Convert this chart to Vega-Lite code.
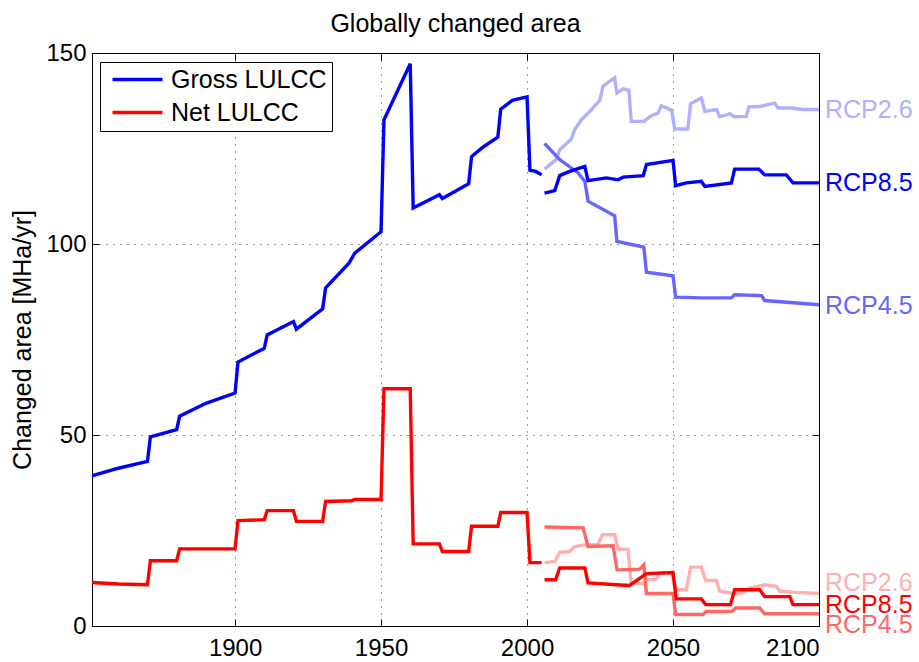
{
  "$schema": "https://vega.github.io/schema/vega-lite/v6.json",
  "width": 727,
  "height": 573,
  "autosize": {"type": "none"},
  "padding": {"left": 92, "top": 53, "right": 100, "bottom": 36},
  "background": "white",
  "title": {"text": "Globally changed area", "fontSize": 25, "fontWeight": "normal", "color": "black", "anchor": "middle", "offset": 4},
  "config": {
    "font": "Liberation Sans",
    "view": {"stroke": "black", "strokeWidth": 1},
    "axis": {"domain": false, "labelColor": "black", "titleColor": "black", "labelFontSize": 24, "titleFontSize": 25, "titleFontWeight": "normal", "tickColor": "black", "gridColor": "black", "gridOpacity": 0.75, "gridDash": [1, 6], "gridWidth": 1}
  },
  "datasets": {
    "lines": [
      {"s": "Gross LULCC", "year": 1851, "v": 39.3},
      {"s": "Gross LULCC", "year": 1860, "v": 41.3},
      {"s": "Gross LULCC", "year": 1870, "v": 43.1},
      {"s": "Gross LULCC", "year": 1871, "v": 49.5},
      {"s": "Gross LULCC", "year": 1880, "v": 51.4},
      {"s": "Gross LULCC", "year": 1881, "v": 54.9},
      {"s": "Gross LULCC", "year": 1890, "v": 58.3},
      {"s": "Gross LULCC", "year": 1900, "v": 61.0},
      {"s": "Gross LULCC", "year": 1901, "v": 69.1},
      {"s": "Gross LULCC", "year": 1910, "v": 72.7},
      {"s": "Gross LULCC", "year": 1911, "v": 76.2},
      {"s": "Gross LULCC", "year": 1920, "v": 79.7},
      {"s": "Gross LULCC", "year": 1921, "v": 77.7},
      {"s": "Gross LULCC", "year": 1930, "v": 83.0},
      {"s": "Gross LULCC", "year": 1931, "v": 88.5},
      {"s": "Gross LULCC", "year": 1939, "v": 95.0},
      {"s": "Gross LULCC", "year": 1941, "v": 97.6},
      {"s": "Gross LULCC", "year": 1950, "v": 103.2},
      {"s": "Gross LULCC", "year": 1951, "v": 132.5},
      {"s": "Gross LULCC", "year": 1960, "v": 147.2},
      {"s": "Gross LULCC", "year": 1961, "v": 109.4},
      {"s": "Gross LULCC", "year": 1970, "v": 112.9},
      {"s": "Gross LULCC", "year": 1971, "v": 111.9},
      {"s": "Gross LULCC", "year": 1980, "v": 115.8},
      {"s": "Gross LULCC", "year": 1981, "v": 122.9},
      {"s": "Gross LULCC", "year": 1985, "v": 125.4},
      {"s": "Gross LULCC", "year": 1990, "v": 128.0},
      {"s": "Gross LULCC", "year": 1991, "v": 135.3},
      {"s": "Gross LULCC", "year": 1995, "v": 137.6},
      {"s": "Gross LULCC", "year": 2000, "v": 138.5},
      {"s": "Gross LULCC", "year": 2001, "v": 119.3},
      {"s": "Gross LULCC", "year": 2003, "v": 119.0},
      {"s": "Gross LULCC", "year": 2005, "v": 118.1},
      {"s": "Net LULCC", "year": 1851, "v": 11.4},
      {"s": "Net LULCC", "year": 1860, "v": 11.0},
      {"s": "Net LULCC", "year": 1870, "v": 10.8},
      {"s": "Net LULCC", "year": 1871, "v": 17.1},
      {"s": "Net LULCC", "year": 1880, "v": 17.1},
      {"s": "Net LULCC", "year": 1881, "v": 20.2},
      {"s": "Net LULCC", "year": 1900, "v": 20.2},
      {"s": "Net LULCC", "year": 1901, "v": 27.6},
      {"s": "Net LULCC", "year": 1910, "v": 27.8},
      {"s": "Net LULCC", "year": 1911, "v": 30.2},
      {"s": "Net LULCC", "year": 1920, "v": 30.2},
      {"s": "Net LULCC", "year": 1921, "v": 27.4},
      {"s": "Net LULCC", "year": 1930, "v": 27.4},
      {"s": "Net LULCC", "year": 1931, "v": 32.6},
      {"s": "Net LULCC", "year": 1940, "v": 32.8},
      {"s": "Net LULCC", "year": 1941, "v": 33.1},
      {"s": "Net LULCC", "year": 1950, "v": 33.1},
      {"s": "Net LULCC", "year": 1951, "v": 62.1},
      {"s": "Net LULCC", "year": 1960, "v": 62.1},
      {"s": "Net LULCC", "year": 1961, "v": 21.5},
      {"s": "Net LULCC", "year": 1970, "v": 21.5},
      {"s": "Net LULCC", "year": 1971, "v": 19.5},
      {"s": "Net LULCC", "year": 1980, "v": 19.5},
      {"s": "Net LULCC", "year": 1981, "v": 26.1},
      {"s": "Net LULCC", "year": 1990, "v": 26.1},
      {"s": "Net LULCC", "year": 1991, "v": 29.7},
      {"s": "Net LULCC", "year": 2000, "v": 29.7},
      {"s": "Net LULCC", "year": 2001, "v": 16.6},
      {"s": "Net LULCC", "year": 2005, "v": 16.6},
      {"s": "Gross RCP2.6", "year": 2006, "v": 119.6},
      {"s": "Gross RCP2.6", "year": 2010, "v": 122.1},
      {"s": "Gross RCP2.6", "year": 2011.2, "v": 124.7},
      {"s": "Gross RCP2.6", "year": 2015.2, "v": 127.5},
      {"s": "Gross RCP2.6", "year": 2016.3, "v": 129.9},
      {"s": "Gross RCP2.6", "year": 2018.6, "v": 132.5},
      {"s": "Gross RCP2.6", "year": 2021.5, "v": 134.7},
      {"s": "Gross RCP2.6", "year": 2024.9, "v": 137.6},
      {"s": "Gross RCP2.6", "year": 2026, "v": 141.3},
      {"s": "Gross RCP2.6", "year": 2030, "v": 143.5},
      {"s": "Gross RCP2.6", "year": 2030.8, "v": 139.5},
      {"s": "Gross RCP2.6", "year": 2032.9, "v": 140.6},
      {"s": "Gross RCP2.6", "year": 2034.9, "v": 140.2},
      {"s": "Gross RCP2.6", "year": 2035.7, "v": 132.1},
      {"s": "Gross RCP2.6", "year": 2040, "v": 132.1},
      {"s": "Gross RCP2.6", "year": 2042.6, "v": 133.6},
      {"s": "Gross RCP2.6", "year": 2044.9, "v": 134.3},
      {"s": "Gross RCP2.6", "year": 2046, "v": 136.2},
      {"s": "Gross RCP2.6", "year": 2049.5, "v": 135.0},
      {"s": "Gross RCP2.6", "year": 2050.6, "v": 130.1},
      {"s": "Gross RCP2.6", "year": 2055.1, "v": 130.1},
      {"s": "Gross RCP2.6", "year": 2056, "v": 136.7},
      {"s": "Gross RCP2.6", "year": 2059.7, "v": 138.2},
      {"s": "Gross RCP2.6", "year": 2060.9, "v": 134.7},
      {"s": "Gross RCP2.6", "year": 2064.9, "v": 135.2},
      {"s": "Gross RCP2.6", "year": 2066, "v": 133.3},
      {"s": "Gross RCP2.6", "year": 2069.4, "v": 134.1},
      {"s": "Gross RCP2.6", "year": 2071.1, "v": 133.3},
      {"s": "Gross RCP2.6", "year": 2075.1, "v": 133.4},
      {"s": "Gross RCP2.6", "year": 2076, "v": 135.9},
      {"s": "Gross RCP2.6", "year": 2079.7, "v": 136.0},
      {"s": "Gross RCP2.6", "year": 2084.8, "v": 136.9},
      {"s": "Gross RCP2.6", "year": 2086, "v": 135.6},
      {"s": "Gross RCP2.6", "year": 2090.5, "v": 135.6},
      {"s": "Gross RCP2.6", "year": 2094.5, "v": 135.2},
      {"s": "Gross RCP2.6", "year": 2100, "v": 135.2},
      {"s": "Gross RCP4.5", "year": 2006, "v": 126.3},
      {"s": "Gross RCP4.5", "year": 2011.2, "v": 122.1},
      {"s": "Gross RCP4.5", "year": 2017.5, "v": 118.6},
      {"s": "Gross RCP4.5", "year": 2019.8, "v": 116.4},
      {"s": "Gross RCP4.5", "year": 2020.9, "v": 111.2},
      {"s": "Gross RCP4.5", "year": 2030, "v": 107.4},
      {"s": "Gross RCP4.5", "year": 2030.8, "v": 100.7},
      {"s": "Gross RCP4.5", "year": 2036.3, "v": 99.8},
      {"s": "Gross RCP4.5", "year": 2040, "v": 99.2},
      {"s": "Gross RCP4.5", "year": 2040.9, "v": 92.6},
      {"s": "Gross RCP4.5", "year": 2050, "v": 91.7},
      {"s": "Gross RCP4.5", "year": 2050.9, "v": 86.1},
      {"s": "Gross RCP4.5", "year": 2059.7, "v": 85.9},
      {"s": "Gross RCP4.5", "year": 2070, "v": 85.9},
      {"s": "Gross RCP4.5", "year": 2071.1, "v": 86.7},
      {"s": "Gross RCP4.5", "year": 2080.3, "v": 86.5},
      {"s": "Gross RCP4.5", "year": 2081.4, "v": 85.2},
      {"s": "Gross RCP4.5", "year": 2100, "v": 84.1},
      {"s": "Gross RCP8.5", "year": 2006, "v": 113.3},
      {"s": "Gross RCP8.5", "year": 2009.5, "v": 114.0},
      {"s": "Gross RCP8.5", "year": 2011.2, "v": 117.9},
      {"s": "Gross RCP8.5", "year": 2014.6, "v": 119.0},
      {"s": "Gross RCP8.5", "year": 2019.8, "v": 120.3},
      {"s": "Gross RCP8.5", "year": 2020.9, "v": 116.6},
      {"s": "Gross RCP8.5", "year": 2027.2, "v": 117.3},
      {"s": "Gross RCP8.5", "year": 2031.2, "v": 116.8},
      {"s": "Gross RCP8.5", "year": 2032.9, "v": 117.5},
      {"s": "Gross RCP8.5", "year": 2039.8, "v": 117.9},
      {"s": "Gross RCP8.5", "year": 2040.9, "v": 120.8},
      {"s": "Gross RCP8.5", "year": 2050, "v": 121.9},
      {"s": "Gross RCP8.5", "year": 2050.9, "v": 115.3},
      {"s": "Gross RCP8.5", "year": 2054.6, "v": 116.0},
      {"s": "Gross RCP8.5", "year": 2059.7, "v": 116.4},
      {"s": "Gross RCP8.5", "year": 2060.9, "v": 115.1},
      {"s": "Gross RCP8.5", "year": 2070, "v": 116.0},
      {"s": "Gross RCP8.5", "year": 2071.1, "v": 119.6},
      {"s": "Gross RCP8.5", "year": 2079.4, "v": 119.6},
      {"s": "Gross RCP8.5", "year": 2081.4, "v": 118.1},
      {"s": "Gross RCP8.5", "year": 2088.8, "v": 118.1},
      {"s": "Gross RCP8.5", "year": 2091.1, "v": 116.0},
      {"s": "Gross RCP8.5", "year": 2100, "v": 116.0},
      {"s": "Net RCP2.6", "year": 2006, "v": 16.6},
      {"s": "Net RCP2.6", "year": 2009.5, "v": 16.9},
      {"s": "Net RCP2.6", "year": 2011.2, "v": 19.3},
      {"s": "Net RCP2.6", "year": 2014.6, "v": 19.5},
      {"s": "Net RCP2.6", "year": 2016.3, "v": 20.8},
      {"s": "Net RCP2.6", "year": 2020.3, "v": 21.3},
      {"s": "Net RCP2.6", "year": 2024.3, "v": 21.3},
      {"s": "Net RCP2.6", "year": 2025.8, "v": 23.9},
      {"s": "Net RCP2.6", "year": 2030, "v": 23.9},
      {"s": "Net RCP2.6", "year": 2031.2, "v": 20.2},
      {"s": "Net RCP2.6", "year": 2034.6, "v": 20.0},
      {"s": "Net RCP2.6", "year": 2035.7, "v": 11.1},
      {"s": "Net RCP2.6", "year": 2039.7, "v": 11.1},
      {"s": "Net RCP2.6", "year": 2040.9, "v": 12.1},
      {"s": "Net RCP2.6", "year": 2044.3, "v": 12.3},
      {"s": "Net RCP2.6", "year": 2045.4, "v": 13.9},
      {"s": "Net RCP2.6", "year": 2049.5, "v": 14.0},
      {"s": "Net RCP2.6", "year": 2051.1, "v": 9.5},
      {"s": "Net RCP2.6", "year": 2054.6, "v": 9.5},
      {"s": "Net RCP2.6", "year": 2056, "v": 15.4},
      {"s": "Net RCP2.6", "year": 2059.7, "v": 15.4},
      {"s": "Net RCP2.6", "year": 2061.2, "v": 11.9},
      {"s": "Net RCP2.6", "year": 2064.9, "v": 11.9},
      {"s": "Net RCP2.6", "year": 2066, "v": 9.1},
      {"s": "Net RCP2.6", "year": 2070.6, "v": 8.5},
      {"s": "Net RCP2.6", "year": 2073.5, "v": 8.5},
      {"s": "Net RCP2.6", "year": 2076.3, "v": 9.9},
      {"s": "Net RCP2.6", "year": 2081.4, "v": 10.8},
      {"s": "Net RCP2.6", "year": 2085.4, "v": 10.4},
      {"s": "Net RCP2.6", "year": 2086.5, "v": 9.1},
      {"s": "Net RCP2.6", "year": 2092.2, "v": 8.8},
      {"s": "Net RCP2.6", "year": 2100, "v": 8.5},
      {"s": "Net RCP4.5", "year": 2006, "v": 25.9},
      {"s": "Net RCP4.5", "year": 2019.2, "v": 25.7},
      {"s": "Net RCP4.5", "year": 2020.9, "v": 20.8},
      {"s": "Net RCP4.5", "year": 2029.5, "v": 21.0},
      {"s": "Net RCP4.5", "year": 2030.8, "v": 14.7},
      {"s": "Net RCP4.5", "year": 2038.6, "v": 14.9},
      {"s": "Net RCP4.5", "year": 2040, "v": 16.0},
      {"s": "Net RCP4.5", "year": 2040.9, "v": 8.5},
      {"s": "Net RCP4.5", "year": 2050, "v": 8.5},
      {"s": "Net RCP4.5", "year": 2050.9, "v": 3.0},
      {"s": "Net RCP4.5", "year": 2060.3, "v": 3.0},
      {"s": "Net RCP4.5", "year": 2061.4, "v": 3.8},
      {"s": "Net RCP4.5", "year": 2070, "v": 3.8},
      {"s": "Net RCP4.5", "year": 2071.5, "v": 4.7},
      {"s": "Net RCP4.5", "year": 2079.7, "v": 4.7},
      {"s": "Net RCP4.5", "year": 2081.4, "v": 3.2},
      {"s": "Net RCP4.5", "year": 2100, "v": 3.2},
      {"s": "Net RCP8.5", "year": 2006, "v": 12.1},
      {"s": "Net RCP8.5", "year": 2009.8, "v": 12.1},
      {"s": "Net RCP8.5", "year": 2011.2, "v": 15.2},
      {"s": "Net RCP8.5", "year": 2019.8, "v": 15.2},
      {"s": "Net RCP8.5", "year": 2020.9, "v": 11.3},
      {"s": "Net RCP8.5", "year": 2030.6, "v": 10.8},
      {"s": "Net RCP8.5", "year": 2035.1, "v": 10.6},
      {"s": "Net RCP8.5", "year": 2040.9, "v": 13.7},
      {"s": "Net RCP8.5", "year": 2050, "v": 14.0},
      {"s": "Net RCP8.5", "year": 2051.1, "v": 7.1},
      {"s": "Net RCP8.5", "year": 2059.7, "v": 7.1},
      {"s": "Net RCP8.5", "year": 2061.2, "v": 5.6},
      {"s": "Net RCP8.5", "year": 2069.7, "v": 5.6},
      {"s": "Net RCP8.5", "year": 2071.1, "v": 9.5},
      {"s": "Net RCP8.5", "year": 2079.7, "v": 9.5},
      {"s": "Net RCP8.5", "year": 2081.4, "v": 7.7},
      {"s": "Net RCP8.5", "year": 2090, "v": 7.7},
      {"s": "Net RCP8.5", "year": 2091.1, "v": 5.6},
      {"s": "Net RCP8.5", "year": 2100, "v": 5.6}
    ],
    "labels": [
      {"s": "Gross RCP2.6", "label": "RCP2.6", "year": 2100, "v": 135.0},
      {"s": "Gross RCP8.5", "label": "RCP8.5", "year": 2100, "v": 116.0},
      {"s": "Gross RCP4.5", "label": "RCP4.5", "year": 2100, "v": 83.8},
      {"s": "Net RCP2.6", "label": "RCP2.6", "year": 2100, "v": 11.3},
      {"s": "Net RCP8.5", "label": "RCP8.5", "year": 2100, "v": 5.6},
      {"s": "Net RCP4.5", "label": "RCP4.5", "year": 2100, "v": 0.3}
    ]
  },
  "resolve": {"axis": {"x": "independent", "y": "independent"}},
  "layer": [
    {
      "data": {"name": "lines"},
      "mark": {"type": "line", "strokeWidth": 3.4, "clip": true},
      "encoding": {
        "x": {"field": "year", "type": "quantitative", "scale": {"domain": [1851, 2100], "nice": false, "zero": false},
              "axis": {"orient": "bottom", "title": null, "values": [1900, 1950, 2000, 2050, 2100], "format": "d", "tickSize": -7, "labelPadding": 17, "grid": true}},
        "y": {"field": "v", "type": "quantitative", "scale": {"domain": [0, 150], "nice": false, "zero": false},
              "axis": {"orient": "left", "title": "Changed area [MHa/yr]", "values": [0, 50, 100, 150], "tickSize": -7, "labelPadding": 13, "titlePadding": 10, "grid": true}},
        "color": {"field": "s", "type": "nominal",
                  "scale": {"domain": ["Gross LULCC", "Net LULCC", "Gross RCP2.6", "Gross RCP4.5", "Gross RCP8.5", "Net RCP2.6", "Net RCP4.5", "Net RCP8.5"],
                            "range": ["#0000ff", "#ff0000", "#b0b0ff", "#6666ff", "#0000ff", "#ffb0b0", "#ff6666", "#ff0000"]},
                  "legend": {"values": ["Gross LULCC", "Net LULCC"], "title": null, "orient": "none", "legendX": 8, "legendY": 9,
                             "padding": 5, "strokeColor": "black", "fillColor": "white", "symbolType": "M-0.5,0L4.5,0", "symbolSize": 400,
                             "symbolStrokeWidth": 3.4, "labelFontSize": 25, "labelColor": "black", "labelOffset": 41, "rowPadding": 7, "symbolOffset": 0}}
      }
    },
    {
      "data": {"name": "labels"},
      "mark": {"type": "text", "align": "left", "baseline": "middle", "dx": 6, "fontSize": 25},
      "encoding": {
        "x": {"field": "year", "type": "quantitative", "axis": {"orient": "top", "title": null, "values": [1900, 1950, 2000, 2050, 2100], "labels": false, "tickSize": -7, "grid": false}},
        "y": {"field": "v", "type": "quantitative", "axis": {"orient": "right", "title": null, "values": [0, 50, 100, 150], "labels": false, "tickSize": -7, "grid": false}},
        "text": {"field": "label"},
        "color": {"field": "s", "type": "nominal", "legend": null}
      }
    }
  ]
}
